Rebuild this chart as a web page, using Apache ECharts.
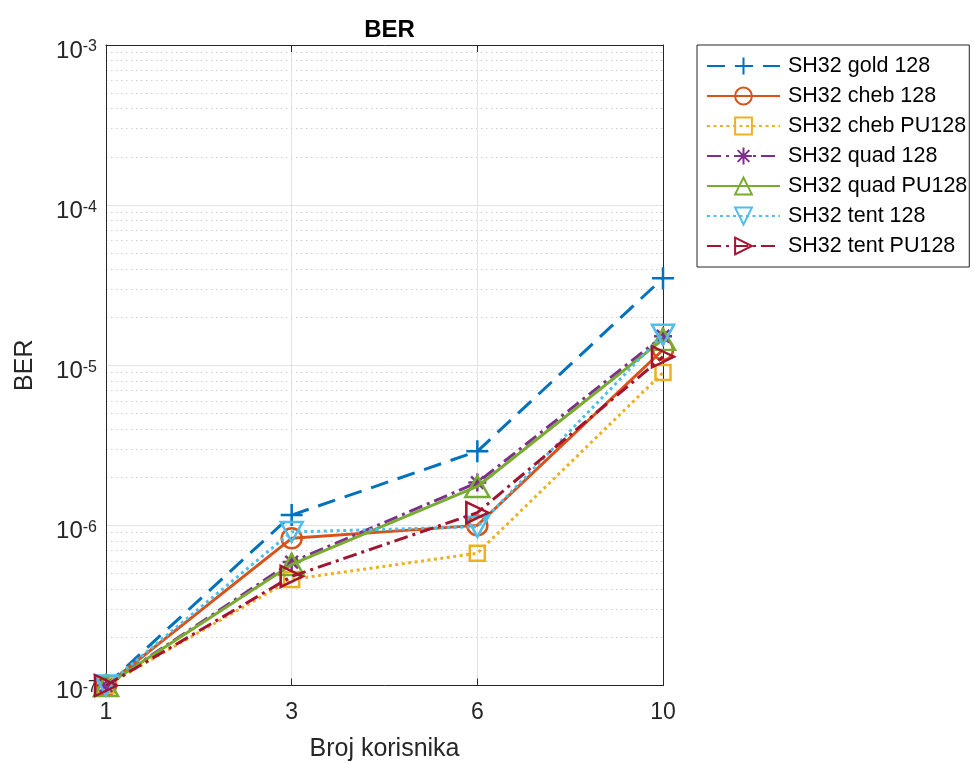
<!DOCTYPE html>
<html><head><meta charset="utf-8">
<script src="https://cdn.jsdelivr.net/npm/echarts@6/dist/echarts.min.js"></script>
<style>html,body{margin:0;padding:0;background:#fff}#c{width:974px;height:763px}</style>
</head><body><div id="c"></div>
<script>
// ---- data ----
const categories = ['1', '3', '6', '10'];
const seriesNames = ['SH32 gold 128', 'SH32 cheb 128', 'SH32 cheb PU128', 'SH32 quad 128', 'SH32 quad PU128', 'SH32 tent 128', 'SH32 tent PU128'];
const goldBER   = [1.0e-7, 1.16e-6, 2.9e-6, 3.5e-5];
const chebBER   = [1.0e-7, 8.3e-7, 1.0e-6, 1.25e-5];
const chebPUBER = [1.0e-7, 4.6e-7, 6.7e-7, 9.0e-6];
const quadBER   = [1.0e-7, 5.9e-7, 1.85e-6, 1.52e-5];
const quadPUBER = [1.0e-7, 5.7e-7, 1.75e-6, 1.45e-5];
const tentBER   = [1.0e-7, 9.1e-7, 9.8e-7, 1.55e-5];
const tentPUBER = [1.0e-7, 4.8e-7, 1.2e-6, 1.13e-5];
const yMin = 1e-7, yMax = 1e-3;
const yTickExponents = [-7, -6, -5, -4, -3];

// ---- style ----
const FONT = '"Liberation Sans", Arial, Helvetica, sans-serif';
const AX = '#262626';
const colors = ['#0072BD', '#D95319', '#EDB120', '#7E2F8E', '#77AC30', '#4DBEEE', '#A2142F'];
const dashes = [[18, 10], 'solid', [3, 3.5], [14, 5, 3, 5], 'solid', [3, 3.5], [14, 5, 3, 5]];
const symbols = [
  'path://M5,0L5,10M0,5L10,5',
  'circle',
  'rect',
  'path://M5,0L5,10M0,5L10,5M1.5,1.5L8.5,8.5M1.5,8.5L8.5,1.5',
  'path://M5,0L10,10L0,10Z',
  'path://M0,0L10,0L5,10Z',
  'path://M0,0L10,5L0,10Z'
];
const symbolSizes = [22, 20, 15, 18, [24, 21], [22, 20], [22, 21]];
const dataArrays = [goldBER, chebBER, chebPUBER, quadBER, quadPUBER, tentBER, tentPUBER];

const minorVals = [];
for (let e = -7; e <= -4; e++) for (let k = 2; k <= 9; k++) minorVals.push(+(k * Math.pow(10, e)).toPrecision(3));

const series = seriesNames.map((n, i) => ({
  name: n, type: 'line', data: dataArrays[i],
  xAxisIndex: 0, yAxisIndex: 0,
  symbol: symbols[i], symbolSize: symbolSizes[i], showAllSymbol: true,
  lineStyle: { color: colors[i], width: 3, type: dashes[i] },
  itemStyle: { color: 'rgba(0,0,0,0)', borderColor: colors[i], borderWidth: 2.5 },
  emphasis: { disabled: true }, silent: true, z: 10 + i
}));

const logAxisBase = { type: 'log', logBase: 10, min: yMin, max: yMax, gridIndex: 0 };

const chart = echarts.init(document.getElementById('c'), null, { renderer: 'canvas' });
chart.setOption({
  animation: false,
  backgroundColor: '#fff',
  title: {
    text: 'BER', left: 384.5, top: 13, textAlign: 'center',
    textStyle: { fontFamily: FONT, fontSize: 24, fontWeight: 'bold', color: '#000' }
  },
  grid: { left: 106, top: 45, right: 311, bottom: 77.5, containLabel: false, outerBoundsMode: 'none' },
  legend: {
    orient: 'vertical', left: 697, top: 45, padding: [10, 2, 10, 9],
    itemGap: 8, itemWidth: 73, itemHeight: 21,
    borderColor: AX, borderWidth: 1, backgroundColor: '#fff',
    textStyle: { fontFamily: FONT, fontSize: 21.5, lineHeight: 21, color: '#000', padding: [0, 0, 0, 3] },
    data: seriesNames, selectedMode: false
  },
  xAxis: [
    {
      type: 'category', data: categories, boundaryGap: false, position: 'bottom',
      name: 'Broj korisnika', nameLocation: 'middle', nameGap: 51,
      nameTextStyle: { fontFamily: FONT, fontSize: 25, color: AX },
      axisLine: { lineStyle: { color: AX, width: 1 } },
      axisTick: { inside: true, length: 7, lineStyle: { color: AX } },
      axisLabel: { fontFamily: FONT, fontSize: 23, color: AX, margin: 16 },
      splitLine: { show: true, lineStyle: { color: '#e3e3e3', width: 1 } }
    },
    {
      type: 'category', data: categories, boundaryGap: false, position: 'top',
      axisLine: { lineStyle: { color: AX, width: 1 } },
      axisTick: { inside: true, length: 7, lineStyle: { color: AX } },
      axisLabel: { show: false }, splitLine: { show: false }
    }
  ],
  yAxis: [
    Object.assign({}, logAxisBase, {
      position: 'left',
      name: 'BER', nameLocation: 'middle', nameGap: 68,
      nameTextStyle: { fontFamily: FONT, fontSize: 25, color: AX },
      axisLine: { show: true, lineStyle: { color: AX, width: 1 } },
      axisTick: { inside: true, length: 8, lineStyle: { color: AX } },
      axisLabel: {
        margin: 9, color: AX,
        formatter: v => '{b|10}{s|' + Math.round(Math.log10(v)) + '}',
        rich: {
          b: { fontFamily: FONT, fontSize: 24, lineHeight: 24, padding: [12, 0, 0, 0], color: AX },
          s: { fontFamily: FONT, fontSize: 16, lineHeight: 16, padding: [6, 0, 0, 0], verticalAlign: 'top', color: AX }
        }
      },
      splitLine: { show: true, lineStyle: { color: '#e3e3e3', width: 1 } }
    }),
    Object.assign({}, logAxisBase, {
      position: 'right',
      axisLine: { show: true, lineStyle: { color: AX, width: 1 } },
      axisTick: { inside: true, length: 8, lineStyle: { color: AX } },
      axisLabel: { show: false }, splitLine: { show: false }
    }),
    Object.assign({}, logAxisBase, {
      position: 'left', offset: 0,
      axisLine: { show: false },
      axisTick: { inside: true, length: 4, customValues: minorVals, lineStyle: { color: AX } },
      axisLabel: { show: false, customValues: minorVals },
      splitLine: { show: true, lineStyle: { color: '#cfcfcf', width: 1, type: [1.5, 3.5] } }
    }),
    Object.assign({}, logAxisBase, {
      position: 'right', offset: 0,
      axisLine: { show: false },
      axisTick: { inside: true, length: 4, customValues: minorVals, lineStyle: { color: AX } },
      axisLabel: { show: false, customValues: minorVals },
      splitLine: { show: false }
    })
  ],
  series: series
});
</script>
</body></html>
